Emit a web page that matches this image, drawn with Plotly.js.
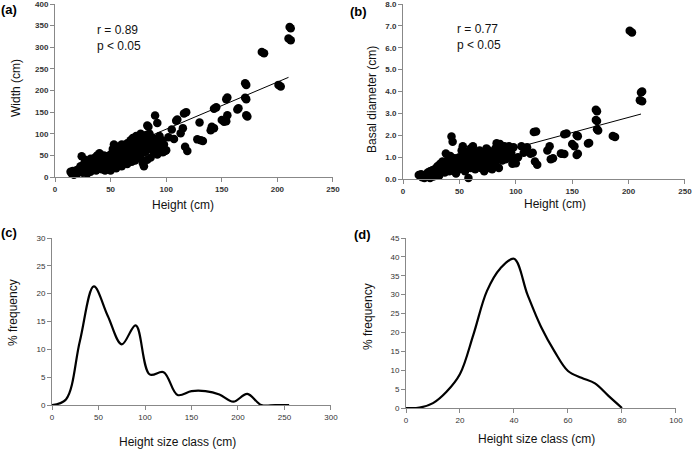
<!DOCTYPE html>
<html>
<head>
<meta charset="utf-8">
<script src="https://cdn.plot.ly/plotly-3.0.1.min.js"></script>
<style>html,body{margin:0;padding:0;background:#fff}#chart{width:695px;height:450px}</style>
</head>
<body>
<div id="chart"></div>
<script>
// ---- Data: panels (a) and (b) share plant heights ----
var heightCm = [14,15,16,17,18,19,20,21,22,23,24,24,25,26,27,27,28,29,30,30,31,32,32,33,34,35,35,36,37,37,38,38,39,40,40,41,42,42,43,44,44,45,45,46,47,47,48,49,50,50,51,52,52,53,53,54,55,55,56,56,57,58,58,59,60,60,61,62,62,63,64,65,65,66,67,68,68,69,70,70,71,72,72,73,74,75,75,76,77,77,78,79,79,80,80,81,82,82,83,84,85,85,86,87,88,89,90,91,92,93,94,95,96,98,99,
211,212,210,212,186,188,201,203,171,172,171,172,172,173,155,154,155,154,165,164,145,143,150,152,141,140,143,130,128,133,131,118,116,119,117,115,113,110,109,105,107,102,100,97,90,92,83,84];
var widthCm = [12,8,14,5,10,15,8,18,12,25,48,20,10,30,15,40,22,8,35,18,28,42,12,30,20,38,25,45,15,32,50,28,20,40,55,30,18,45,35,25,50,42,15,30,48,20,38,28,52,15,40,65,25,75,45,30,58,20,70,40,50,30,62,45,75,25,55,68,38,60,48,78,30,55,72,42,85,35,65,90,50,80,38,95,70,55,88,75,45,100,82,32,68,92,25,58,97,75,40,85,65,100,45,78,90,58,88,70,52,80,95,65,85,75,60,
347,344,320,316,289,286,213,209,217,213,183,180,143,140,184,180,143,129,159,156,161,158,132,128,116,108,113,126,87,83,85,150,147,60,70,113,101,133,130,110,88,92,62,57,142,125,119,116];
var basalDiamCm = [0.18,0.15,0.22,0.08,0.12,0.05,0.2,0.1,0.3,0.15,0.35,0.05,0.25,0.4,0.12,0.3,0.45,0.2,0.55,0.28,0.6,0.35,0.15,0.7,0.5,0.4,0.8,0.62,0.3,0.55,1.17,0.45,0.75,0.9,0.6,0.35,0.5,1.05,1.94,1.7,0.8,0.65,0.4,0.95,0.55,0.25,0.85,0.6,1.0,0.45,0.75,1.3,0.55,1.5,0.9,1.1,0.7,0.35,1.25,0.95,0.6,0.05,1.15,0.8,1.4,0.5,0.9,1.5,0.7,1.05,0.45,1.2,0.85,0.65,1.0,0.9,1.3,0.5,1.15,0.75,1.05,0.35,0.6,1.2,1.4,0.9,0.5,1.3,0.8,1.1,0.65,0.45,1.0,1.25,0.55,0.85,1.4,0.7,1.1,0.95,0.5,1.3,1.6,1.0,0.85,1.2,1.45,0.9,1.1,1.3,1.5,1.0,1.2,1.45,0.9,
3.95,4.0,3.6,3.55,1.97,1.92,6.78,6.7,3.17,3.1,2.7,2.65,2.27,2.22,1.95,2.0,1.15,1.1,1.65,1.62,2.08,2.05,1.6,1.5,1.15,1.17,1.14,1.5,1.3,0.95,0.9,2.17,2.15,0.65,0.8,1.2,1.15,1.45,1.4,1.5,1.2,1.0,0.72,0.7,1.5,1.4,1.63,1.55];
var trendA_x = [14, 210];
var trendA_y = [16.8, 230.4];
var trendB_x = [14, 211];
var trendB_y = [0.23, 2.97];

// ---- Panel (c): frequency by height class ----
var classC = [0,15,30,45,60,75,90,105,120,135,150,165,180,195,210,225,240,255];
var freqC  = [0,1,11.5,21.3,16,10.9,14.3,5.5,5.9,1.8,2.5,2.5,1.9,0.6,2,0,0,0];
// ---- Panel (d) ----
var classD = [0,5,10,15,20,25,30,35,40,45,50,55,60,65,70,75,80];
var freqD  = [0,0.1,1.3,4.3,9,19.5,31,37,39.5,30,21.5,15,9.8,8,6.5,3.2,0];

function px(x){return x/695;}
function py(y){return 1 - y/450;}

var mk = {color:'#000', size:8.5, symbol:'circle', line:{width:0}};
var traces = [
  {x:heightCm, y:widthCm, type:'scatter', mode:'markers', marker:mk, xaxis:'x', yaxis:'y', cliponaxis:false},
  {x:trendA_x, y:trendA_y, type:'scatter', mode:'lines', line:{color:'#000', width:1}, xaxis:'x', yaxis:'y'},
  {x:heightCm, y:basalDiamCm, type:'scatter', mode:'markers', marker:mk, xaxis:'x2', yaxis:'y2', cliponaxis:false},
  {x:trendB_x, y:trendB_y, type:'scatter', mode:'lines', line:{color:'#000', width:1}, xaxis:'x2', yaxis:'y2'},
  {x:classC, y:freqC, type:'scatter', mode:'lines', line:{color:'#000', width:2.2, shape:'spline', smoothing:1}, xaxis:'x3', yaxis:'y3'},
  {x:classD, y:freqD, type:'scatter', mode:'lines', line:{color:'#000', width:2.2, shape:'spline', smoothing:1}, xaxis:'x4', yaxis:'y4'}
];

var boldTick = {family:'Liberation Sans, Arial', size:8, color:'#333', weight:'bold'};
var normTick = {family:'Liberation Sans, Arial', size:8, color:'#333'};
function ax(o, tf){
  return Object.assign({showgrid:false, zeroline:false, showline:true, linecolor:'#888', linewidth:1,
    ticks:'outside', ticklen:4, tickcolor:'#888', tickfont:tf, fixedrange:true,
    tickmode:'linear', tick0:0, ticklabeloverflow:'allow'}, o);
}

var layout = {
  width:695, height:450, margin:{l:0,r:0,t:0,b:0}, showlegend:false,
  paper_bgcolor:'#fff', plot_bgcolor:'#fff',
  xaxis:  ax({domain:[px(55),px(333)], range:[0,250.01], dtick:50, anchor:'y'}, boldTick),
  yaxis:  ax({domain:[py(177),py(4)], range:[0,400.01], dtick:50, anchor:'x'}, boldTick),
  xaxis2: ax({domain:[px(403),px(685)], range:[0,250.01], dtick:50, anchor:'y2'}, boldTick),
  yaxis2: ax({domain:[py(179),py(4)], range:[0,8.001], dtick:1, tickformat:'.1f', anchor:'x2'}, boldTick),
  xaxis3: ax({domain:[px(52),px(331)], range:[0,300.01], dtick:50, anchor:'y3'}, normTick),
  yaxis3: ax({domain:[py(405),py(238)], range:[0,30.001], dtick:5, anchor:'x3'}, normTick),
  xaxis4: ax({domain:[px(406),px(676)], range:[0,100.01], dtick:20, anchor:'y4'}, normTick),
  yaxis4: ax({domain:[py(408),py(238)], range:[0,45.001], dtick:5, anchor:'x4'}, normTick),
  annotations: []
};

var tfont = {family:'Liberation Sans, Arial', size:12, color:'#111'};
var lfont = {family:'Liberation Sans, Arial', size:13, color:'#000', weight:'bold'};
function ann(text, x, y, font, extra){
  layout.annotations.push(Object.assign({text:text, xref:'paper', yref:'paper', x:px(x), y:py(y),
    showarrow:false, font:font, xanchor:'center', yanchor:'middle'}, extra||{}));
}
ann('(a)', 9, 9, lfont);
ann('(b)', 358, 11, lfont);
ann('(c)', 9, 232, lfont);
ann('(d)', 362, 234, lfont);
ann('Width (cm)', 16, 88, tfont, {textangle:-90});
ann('Basal diameter (cm)', 372, 100, tfont, {textangle:-90});
ann('% frequency', 13, 313, tfont, {textangle:-90});
ann('% frequency', 368, 317, tfont, {textangle:-90});
ann('Height (cm)', 183, 205, tfont);
ann('Height (cm)', 555, 204, tfont);
ann('Height size class (cm)', 177, 442, tfont);
ann('Height size class (cm)', 536, 439, tfont);
ann('r = 0.89<br>p < 0.05', 95, 38, tfont, {xanchor:'left', align:'left'});
ann('r = 0.77<br>p < 0.05', 455, 37, tfont, {xanchor:'left', align:'left'});

Plotly.newPlot('chart', traces, layout, {displayModeBar:false, staticPlot:true});
</script>
</body>
</html>
